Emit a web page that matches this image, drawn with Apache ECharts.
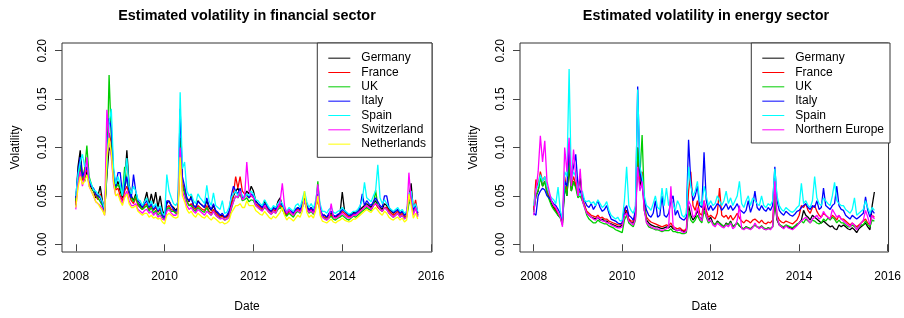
<!DOCTYPE html>
<html>
<head>
<meta charset="utf-8">
<script src="https://cdn.jsdelivr.net/npm/echarts@6/dist/echarts.min.js"></script>
<style>
  html, body { margin: 0; padding: 0; background: #fff; }
  #volChart { width: 904px; height: 318px; }
</style>
</head>
<body>
<div id="volChart"></div>
<script>
  // weekly-ish samples, one every 0.05 year starting 2008.00
  const startYear = 2008
  const stepYears = 0.05

  const xTicks = [2008, 2010, 2012, 2014, 2016]
  const yTicks = [0, 0.05, 0.10, 0.15, 0.20]

  // financial sector, values in thousandths
  const finGermany = [
    40,80,97,70,65,75,62,58,55,48,50,60,45,35,70,100,95,75,60,65,
    55,48,60,97,62,50,45,52,42,40,38,45,54,40,52,42,54,38,50,35,
    30,42,45,40,38,35,38,95,60,55,48,44,50,40,38,45,42,40,38,45,
    38,35,40,34,32,30,30,28,29,32,42,50,55,58,52,48,50,55,52,60,
    55,45,42,40,38,45,40,36,34,38,36,44,48,40,35,32,36,34,32,36,
    38,36,42,48,40,35,38,34,40,48,36,30,30,28,30,32,29,28,30,32,
    54,35,32,30,31,33,32,34,36,38,40,42,40,38,42,45,40,38,36,42,
    40,36,34,32,34,36,32,34,30,32,48,63,35,40,30
  ]
  const finFrance = [
    42,65,78,66,72,78,64,60,56,50,46,52,42,34,80,115,105,72,56,58,
    50,45,55,60,52,45,42,48,40,38,36,40,42,36,40,35,38,33,36,30,
    28,38,40,36,35,33,34,100,65,55,45,40,42,38,36,40,38,36,35,40,
    34,32,36,32,30,28,29,27,28,30,40,52,70,58,70,55,52,50,48,50,
    48,42,40,38,36,40,38,35,33,36,34,38,40,38,33,30,34,32,30,34,
    36,34,40,44,38,34,36,33,38,45,34,29,28,27,28,30,28,27,29,30,
    34,32,30,28,29,31,30,32,34,36,38,40,38,36,40,42,38,36,34,38,
    38,34,32,30,32,34,30,32,28,30,44,50,34,46,32
  ]
  const finUK = [
    45,70,82,68,78,102,70,62,55,52,48,44,40,32,75,175,110,68,58,62,
    58,50,80,65,55,48,44,50,42,38,36,38,40,34,38,32,35,30,33,28,
    26,36,38,34,34,32,32,110,62,52,44,40,40,36,34,38,36,34,33,38,
    32,30,34,30,28,27,27,25,26,28,36,44,50,48,52,45,46,48,44,46,
    45,40,38,36,35,38,36,33,31,34,32,36,38,36,31,29,32,30,28,32,
    34,32,38,45,36,32,34,31,40,65,36,28,27,25,27,29,26,25,27,28,
    30,28,26,25,27,29,28,30,32,34,36,38,36,35,40,56,40,36,34,38,
    36,32,30,28,30,32,28,30,27,28,42,46,32,38,29
  ]
  const finItaly = [
    48,75,90,70,75,80,66,60,58,52,50,48,42,34,85,130,120,75,60,74,
    74,52,58,70,55,48,72,55,45,42,38,42,45,38,42,36,40,34,38,30,
    27,45,44,40,36,34,36,140,70,60,48,45,48,40,38,44,42,40,38,48,
    40,36,42,35,33,30,32,28,30,34,50,60,55,52,58,48,50,52,48,52,
    50,44,42,40,38,42,40,36,34,38,36,40,42,40,35,32,36,34,32,36,
    38,36,42,46,40,35,38,34,42,52,38,30,30,28,32,34,30,29,31,32,
    36,34,32,30,30,32,32,34,38,52,40,45,42,40,44,48,44,40,38,50,
    50,38,35,33,34,36,32,34,30,32,50,52,36,40,32
  ]
  const finSpain = [
    50,72,85,93,80,85,68,62,56,55,52,50,44,36,80,125,140,80,62,70,
    62,50,70,89,60,52,60,55,46,45,40,44,48,40,45,38,42,36,40,32,
    30,72,55,48,42,40,44,157,78,85,55,50,52,45,42,52,48,45,42,61,
    45,40,53,40,38,36,45,32,33,38,48,52,55,50,55,50,48,52,50,55,
    52,46,45,42,40,46,42,38,36,40,38,42,45,42,37,34,38,36,34,40,
    42,38,46,55,44,38,42,37,45,60,42,34,34,32,36,38,33,32,34,35,
    38,35,33,31,32,34,34,36,40,45,64,48,46,44,50,55,82,48,42,46,
    42,38,36,34,36,38,34,36,32,34,52,55,38,42,34
  ]
  const finSwitzerland = [
    36,62,75,60,70,90,60,55,50,44,42,40,37,30,139,110,90,62,50,52,
    48,42,50,55,45,40,40,42,36,34,32,35,36,32,34,30,33,28,30,26,
    25,34,36,32,30,30,32,100,55,48,40,36,38,34,32,36,34,32,30,34,
    32,30,34,30,28,26,27,25,26,28,38,44,50,48,55,46,48,85,55,50,
    48,40,38,36,34,40,36,33,31,34,32,38,44,63,40,32,36,32,30,34,
    35,33,38,45,37,33,35,32,40,62,36,28,26,25,27,42,28,27,28,30,
    32,30,28,27,28,30,30,32,34,36,38,40,38,36,40,42,40,36,34,38,
    36,32,30,28,30,32,28,30,26,28,74,45,30,38,28
  ]
  const finNetherlands = [
    38,58,70,62,65,72,60,55,50,44,42,38,35,30,90,110,95,65,50,52,
    45,40,48,52,42,38,38,40,34,32,30,32,32,28,30,27,28,26,27,23,
    21,30,32,30,28,27,28,90,50,44,36,32,34,30,28,32,30,28,27,30,
    27,25,28,26,24,22,23,21,22,24,32,36,40,40,42,38,38,45,40,40,
    40,35,33,31,30,34,31,28,26,29,27,30,33,38,30,25,28,26,24,27,
    30,28,34,55,33,28,30,27,34,50,30,24,23,22,24,26,23,22,24,25,
    27,25,24,23,24,26,26,28,30,32,34,36,34,33,36,38,35,32,30,34,
    32,28,26,25,27,28,25,27,23,25,52,40,27,32,26
  ]

  // energy sector, values in thousandths
  const enGermany = [
    35,50,55,70,60,65,55,48,42,38,35,30,28,22,60,50,80,55,65,60,
    55,70,45,40,32,30,28,27,26,28,25,26,24,24,22,21,20,19,18,18,
    20,30,35,25,22,22,28,90,60,70,35,25,22,20,19,18,18,17,16,17,
    18,17,19,16,15,14,15,14,13,14,40,30,25,28,35,28,25,40,30,25,
    28,22,20,24,22,20,18,22,20,24,18,20,22,19,17,16,18,17,16,18,
    20,18,17,19,16,15,17,16,18,45,25,20,18,17,19,18,17,16,18,20,
    22,25,35,30,28,25,30,28,26,24,22,24,22,20,18,19,16,15,20,18,
    20,18,16,15,17,15,12,16,18,20,22,18,15,40,54
  ]
  const enFrance = [
    36,67,60,75,65,70,55,50,45,40,36,32,30,24,70,55,90,60,70,62,
    50,55,48,40,34,32,30,29,28,30,27,28,26,26,24,23,22,21,20,20,
    22,38,32,26,24,24,30,100,65,75,40,28,25,23,22,21,20,19,18,19,
    20,19,22,18,17,16,17,15,14,16,55,75,40,35,45,32,30,45,35,28,
    30,28,26,32,58,30,28,30,26,30,25,28,32,27,24,22,25,24,22,25,
    26,24,22,25,22,21,23,22,25,55,30,25,23,22,24,23,22,21,23,25,
    30,40,38,42,35,32,38,40,34,30,28,32,30,28,26,30,28,25,30,26,
    26,24,22,20,22,20,18,20,22,24,26,22,20,30,28
  ]
  const enUK = [
    33,50,55,70,60,65,52,46,40,36,33,30,27,20,60,50,85,55,65,58,
    48,50,45,38,30,26,24,22,22,25,23,22,21,21,19,18,17,15,14,13,
    12,25,30,22,20,18,25,100,70,113,45,22,18,17,16,15,15,14,13,14,
    14,14,16,13,13,12,12,11,11,12,35,25,22,25,30,25,22,35,28,22,
    24,22,20,23,22,20,18,21,20,23,18,20,22,19,17,16,18,17,16,18,
    20,18,17,19,17,16,17,16,18,50,26,21,19,18,20,19,18,17,19,21,
    22,24,22,26,24,22,25,24,22,21,22,26,24,27,25,28,26,22,25,22,
    22,20,18,18,20,18,16,18,20,20,24,20,18,25,24
  ]
  const enItaly = [
    32,30,50,55,58,56,50,48,45,42,40,36,32,25,65,60,100,70,80,93,
    60,55,50,45,40,38,42,36,40,45,38,34,36,40,32,26,25,24,22,21,
    22,35,40,30,28,25,35,163,75,60,45,35,30,28,32,45,28,30,50,30,
    28,32,45,50,30,35,28,26,25,28,108,65,45,50,60,40,38,95,45,35,
    40,35,38,42,40,35,38,42,36,40,35,38,42,36,34,32,35,45,33,40,
    55,38,35,40,36,34,38,35,40,80,45,35,32,30,34,32,30,29,31,34,
    35,38,40,42,38,36,40,38,45,36,38,58,40,38,36,40,42,60,40,36,
    35,30,28,26,30,28,26,28,30,32,49,35,28,35,32
  ]
  const enSpain = [
    40,57,60,72,65,70,60,52,48,46,42,59,35,26,75,70,181,65,75,70,
    55,50,55,45,44,45,42,44,40,46,42,38,40,44,35,30,28,26,28,24,
    25,45,80,40,35,32,40,160,80,70,50,40,38,35,42,50,38,36,58,40,
    58,40,48,42,35,45,40,30,28,32,80,60,50,55,65,45,40,60,50,40,
    45,40,42,50,45,40,45,55,42,48,40,45,50,65,42,38,45,50,40,48,
    45,42,40,50,40,38,42,40,45,78,50,40,36,34,38,36,34,33,35,38,
    40,63,42,45,40,38,45,70,48,42,40,48,45,42,40,50,64,45,42,40,
    40,36,34,32,36,48,30,32,34,36,45,38,32,38,35
  ]
  const enNorthernEurope = [
    30,55,75,112,85,107,65,55,45,40,38,33,28,18,100,75,110,60,98,70,
    50,78,45,38,32,30,28,26,25,28,26,24,24,22,22,20,19,18,17,17,
    18,30,32,24,22,20,26,80,55,65,35,22,20,18,17,16,16,15,14,15,
    16,18,60,20,15,14,15,13,12,14,45,40,28,30,38,28,24,45,30,24,
    25,20,18,22,20,18,17,20,18,22,16,18,25,40,16,15,17,16,15,17,
    22,18,16,18,16,15,16,15,18,65,28,20,18,16,19,17,16,15,17,19,
    22,24,26,28,25,22,26,28,30,26,28,34,30,28,26,36,32,28,30,26,
    24,22,20,18,22,20,15,18,22,25,35,28,20,30,26
  ]

  const colors = {
    Germany: '#000000', France: '#FF0000', UK: '#00CD00', Italy: '#0000FF',
    Spain: '#00FFFF', Switzerland: '#FF00FF', Netherlands: '#FFFF00',
    'Northern Europe': '#FF00FF'
  }

  const finSeries = [
    ['Germany', finGermany], ['France', finFrance], ['UK', finUK], ['Italy', finItaly],
    ['Spain', finSpain], ['Switzerland', finSwitzerland], ['Netherlands', finNetherlands]
  ]
  const enSeries = [
    ['Germany', enGermany], ['France', enFrance], ['UK', enUK], ['Italy', enItaly],
    ['Spain', enSpain], ['Northern Europe', enNorthernEurope]
  ]

  const font = 'Liberation Sans, Arial, sans-serif'

  function toPoints(vals) {
    return vals.map((v, i) => [startYear + i * stepYears, v / 1000])
  }

  function makeSeries(list, idx) {
    return list.map(([name, vals]) => ({
      name: name,
      type: 'line',
      xAxisIndex: idx,
      yAxisIndex: idx,
      symbol: 'none',
      data: toPoints(vals),
      color: colors[name],
      lineStyle: { width: 1.3 },
      emphasis: { disabled: true }
    }))
  }

  function makeX(idx) {
    return {
      type: 'value',
      gridIndex: idx,
      min: 2007.69,
      max: 2016.02,
      axisLine: { show: false },
      splitLine: { show: false },
      axisTick: { show: true, length: 7, customValues: xTicks, lineStyle: { color: '#444' } },
      axisLabel: {
        customValues: xTicks, fontSize: 12, color: '#000', margin: 19,
        fontFamily: font, formatter: v => String(v)
      },
      name: 'Date',
      nameLocation: 'middle',
      nameGap: 49,
      nameTextStyle: { fontSize: 12, color: '#000', fontFamily: font }
    }
  }

  function makeY(idx) {
    return {
      type: 'value',
      gridIndex: idx,
      min: -0.008,
      max: 0.208,
      axisLine: { show: false },
      splitLine: { show: false },
      axisTick: { show: true, length: 7, customValues: yTicks, lineStyle: { color: '#444' } },
      axisLabel: {
        customValues: yTicks, rotate: 90, fontSize: 12, color: '#000', margin: 13,
        fontFamily: font, formatter: v => v.toFixed(2)
      },
      name: 'Volatility',
      nameLocation: 'middle',
      nameRotate: 90,
      nameGap: 40,
      nameTextStyle: { fontSize: 12, color: '#000', fontFamily: font }
    }
  }

  function makeLegend(names, right) {
    return {
      data: names,
      orient: 'vertical',
      right: right,
      top: 43,
      icon: 'path://M0,0 L22,0 L22,1 L0,1 Z',
      symbolKeepAspect: true,
      itemWidth: 22,
      itemHeight: 14,
      itemGap: 0,
      padding: [8, 6, 6, 11],
      borderColor: '#333',
      borderWidth: 1,
      backgroundColor: '#fff',
      selectedMode: false,
      textStyle: {
        fontSize: 12, color: '#000', fontFamily: font,
        lineHeight: 14.33, padding: [0, 0, 0, 6]
      }
    }
  }

  const option = {
    animation: false,
    backgroundColor: '#fff',
    title: [
      {
        text: 'Estimated volatility in financial sector',
        left: 247, top: 9, textAlign: 'center', padding: 0,
        textStyle: { fontSize: 14.4, fontWeight: 'bold', color: '#000', fontFamily: font }
      },
      {
        text: 'Estimated volatility in energy sector',
        left: 706, top: 9, textAlign: 'center', padding: 0,
        textStyle: { fontSize: 14.4, fontWeight: 'bold', color: '#000', fontFamily: font }
      }
    ],
    grid: [
      { left: 62, top: 43, width: 370, height: 213, show: true, borderColor: '#333', borderWidth: 1, backgroundColor: '#fff' },
      { left: 520, top: 43, width: 370, height: 213, show: true, borderColor: '#333', borderWidth: 1, backgroundColor: '#fff' }
    ],
    legend: [
      makeLegend(finSeries.map(s => s[0]), 472),
      makeLegend(enSeries.map(s => s[0]), 14)
    ],
    xAxis: [makeX(0), makeX(1)],
    yAxis: [makeY(0), makeY(1)],
    series: makeSeries(finSeries, 0).concat(makeSeries(enSeries, 1))
  }

  const volChart = echarts.init(document.getElementById('volChart'))
  volChart.setOption(option)
</script>
</body>
</html>
